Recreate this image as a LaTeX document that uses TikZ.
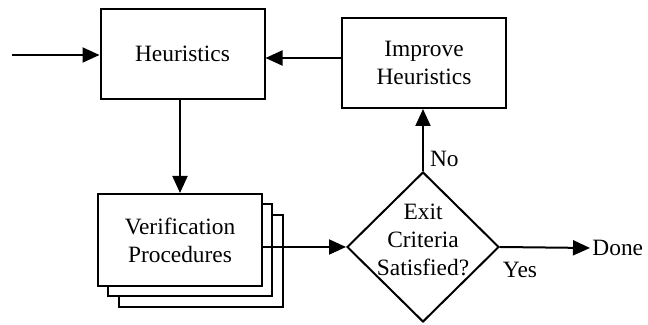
\documentclass[tikz,border=0pt]{standalone}
\usepackage{fontspec}
\setmainfont{Liberation Serif}
\usetikzlibrary{shapes.geometric,arrows.meta}
\tikzset{
  box/.style={draw,line width=1pt,fill=white,minimum width=82pt,minimum height=45pt,align=center,inner sep=0pt},
  arr/.style={line width=1pt,-{Triangle[length=8.5pt,width=7.5pt]}},
}
\begin{document}
\begin{tikzpicture}[x=0.5pt,y=-0.5pt,font=\fontsize{11.7}{14}\selectfont]
\useasboundingbox (0,0) rectangle (648,325);
% boxes
\node[box] (heur) at (182.5,54) {Heuristics};
\node[box] (improve) at (424,63) {Improve\\Heuristics};
\node[box,minimum height=46pt] (verify3) at (201,261) {};
\node[box,minimum height=46pt] (verify2) at (190,250) {};
\node[box,minimum height=46pt] (verify) at (180,240) {Verification\\Procedures};
% decision
\node[draw,line width=1pt,diamond,aspect=1,minimum width=76pt,minimum height=75pt,inner sep=0pt] (crit) at (423,247) {};
\node[align=center,inner sep=0pt] (critlbl) at (423,240) {Exit\\Criteria\\Satisfied?};
\node[anchor=west,inner sep=1pt] (done) at (590,248) {Done};
% connectors
\coordinate (in) at (12,55);
\draw[arr] (in) -- (in -| heur.west);
\draw[arr] ([yshift=2.5pt]improve.west) -- ([yshift=2.5pt]improve.west -| heur.east);
\draw[arr] (verify.north |- heur.south) -- (verify.north);
\draw[arr] (crit.west -| verify.east) -- (crit.west);
\draw[arr] (crit.north) -- node[pos=0.2,right,inner sep=3pt] {No} (crit.north |- improve.south);
\draw[arr] (crit.east) -- (done.west);
\node (yes) at (520,270) {Yes};
\end{tikzpicture}
\end{document}
